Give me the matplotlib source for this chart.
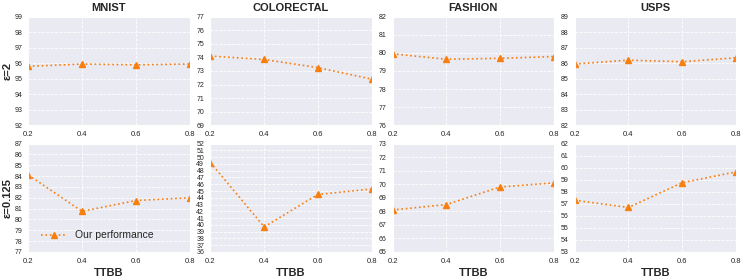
import numpy as np
import matplotlib.pyplot as plt
import seaborn as sns

sns.set_style("darkgrid", {"grid.linestyle": "--"})
plt.rcParams['font.family'] = ['Liberation Sans', 'DejaVu Sans']

ttbb = [0.2, 0.4, 0.6, 0.8]
datasets = ['MNIST', 'COLORECTAL', 'FASHION', 'USPS']
eps_labels = ['ε=2', 'ε=0.125']

# ε=2
mnist_e2 = [95.8, 95.95, 95.9, 95.95]
colorectal_e2 = [74.1, 73.85, 73.25, 72.4]
fashion_e2 = [79.95, 79.65, 79.7, 79.8]
usps_e2 = [85.95, 86.2, 86.1, 86.35]
# ε=0.125
mnist_e0125 = [84.1, 80.75, 81.75, 82.0]
colorectal_e0125 = [49.2, 39.7, 44.5, 45.3]
fashion_e0125 = [68.1, 68.5, 69.8, 70.1]
usps_e0125 = [57.3, 56.7, 58.75, 59.65]

values = [[mnist_e2, colorectal_e2, fashion_e2, usps_e2],
          [mnist_e0125, colorectal_e0125, fashion_e0125, usps_e0125]]
ylims = [[(92, 99), (69, 77), (76, 82), (82, 89)],
         [(77, 87), (36, 52), (65, 73), (53, 62)]]

fig, axes = plt.subplots(2, 4, figsize=(7.47, 2.8), dpi=100)
fig.subplots_adjust(left=0.038, right=0.985, top=0.94, bottom=0.1, wspace=0.13, hspace=0.17)

for r in range(2):
    for c in range(4):
        ax = axes[r, c]
        ax.plot(ttbb, values[r][c], linestyle=':', marker='^', color='#f77f10',
                markersize=4.5, linewidth=1.2, label='Our performance')
        lo, hi = ylims[r][c]
        ax.set_ylim(lo, hi)
        ax.set_yticks(np.arange(lo, hi + 1, 1))
        ax.set_xlim(0.2, 0.8)
        ax.set_xticks(ttbb)
        ax.tick_params(axis='y', labelsize=5, pad=1)
        ax.tick_params(axis='x', labelsize=5.5, pad=1)
        ax.grid(True, color='white', linestyle='--', linewidth=0.6)
        if r == 0:
            ax.set_title(datasets[c], fontsize=8, fontweight='bold', pad=4)
        else:
            ax.set_xlabel('TTBB', fontsize=8, fontweight='bold', labelpad=2)
        if c == 0:
            ax.set_ylabel(eps_labels[r], fontsize=8, fontweight='bold', labelpad=1)

axes[1, 0].legend(loc='lower left', frameon=False, fontsize=7.5, handlelength=2.5,
                  bbox_to_anchor=(0.02, 0.02))

plt.savefig('out.png', dpi=100)
